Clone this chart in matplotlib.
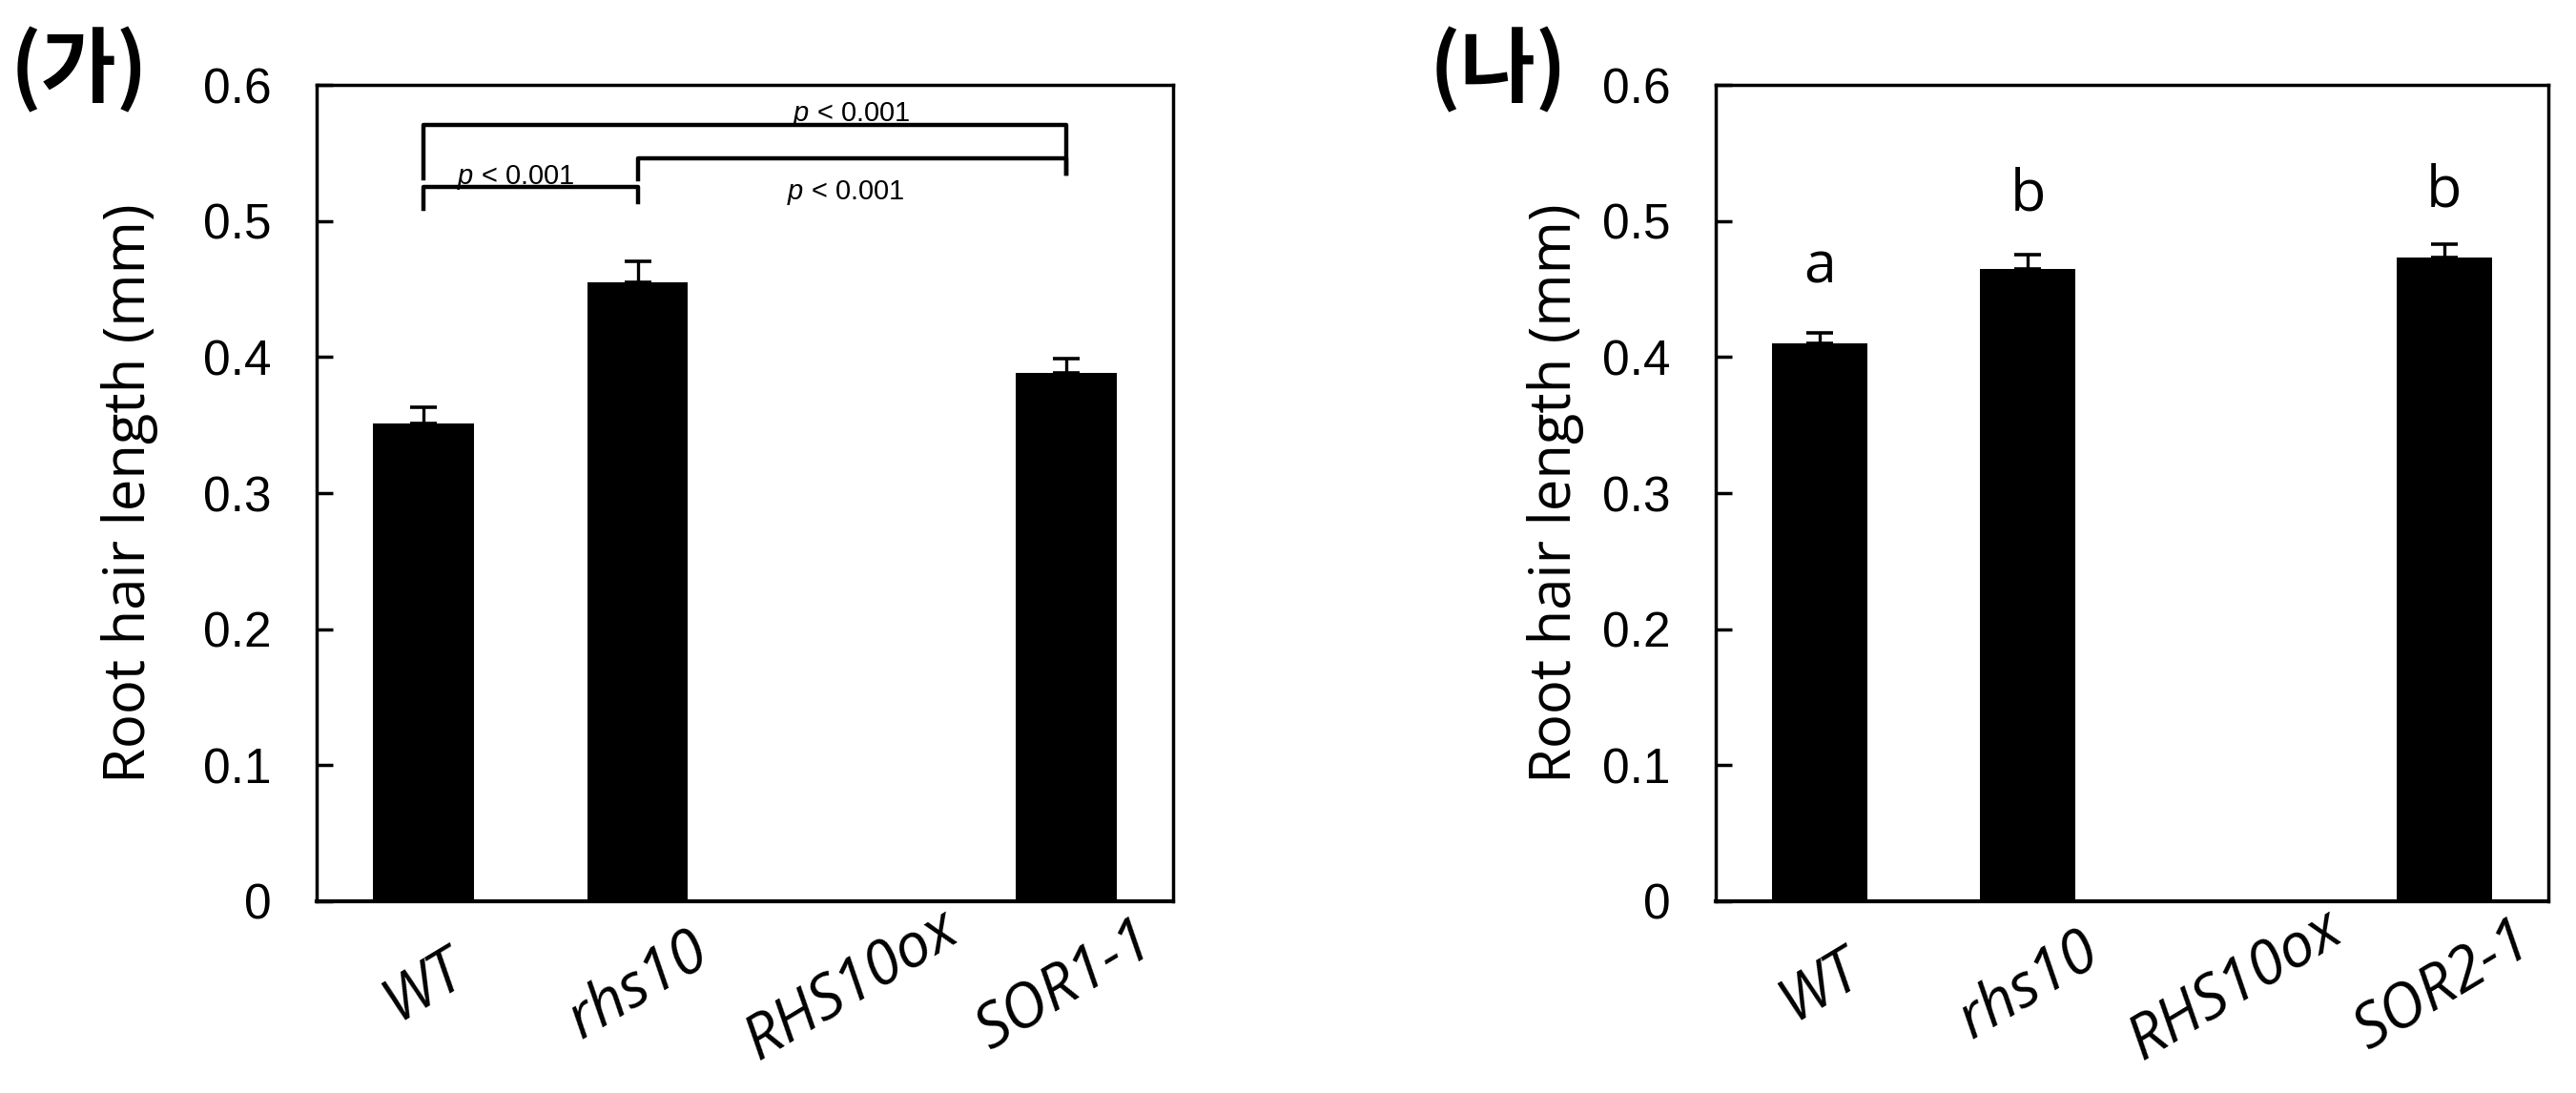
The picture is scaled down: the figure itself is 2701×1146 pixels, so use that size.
import matplotlib
matplotlib.use('Agg')
import matplotlib.pyplot as plt
import numpy as np

plt.rcParams['mathtext.fontset'] = 'custom'
plt.rcParams['mathtext.rm'] = 'Liberation Sans'
plt.rcParams['mathtext.it'] = 'Liberation Sans:italic'

# data
labels_a = ['WT', 'rhs10', 'RHS10ox', 'SOR1-1']
means_a = [0.351, 0.455, 0.0, 0.388]
errs_a = [0.012, 0.015, 0.0, 0.011]

labels_b = ['WT', 'rhs10', 'RHS10ox', 'SOR2-1']
means_b = [0.410, 0.465, 0.0, 0.473]
errs_b = [0.008, 0.010, 0.0, 0.010]
letters_b = ['a', 'b', '', 'b']
letter_y_b = [0.466, 0.519, 0, 0.522]

yticks = [0, 0.1, 0.2, 0.3, 0.4, 0.5, 0.6]
ytick_labels = ['0', '0.1', '0.2', '0.3', '0.4', '0.5', '0.6']

# brackets: (x1, x2, y, left leg bottom, right leg bottom, label x, label y)
brackets_a = [
    (0, 3, 0.5705, 0.531, 0.535, 2.0, 0.578),
    (1, 3, 0.546, 0.5305, 0.535, 1.97, 0.521),
    (0, 1, 0.525, 0.509, 0.514, 0.43, 0.532),
]

fig = plt.figure(figsize=(27.01, 11.46), dpi=100)
ax1 = fig.add_axes([0.1229, 0.1754, 0.3325, 0.7469])
ax2 = fig.add_axes([0.6660, 0.1754, 0.3232, 0.7469])


def draw(ax, labels, means, errs, width, lpad):
    x = np.arange(len(labels))
    ax.bar(x, means, width=width, color='black', zorder=2)
    for xi, m, e in zip(x, means, errs):
        if m > 0:
            ax.errorbar(xi, m, yerr=[[0], [e]], fmt='none', ecolor='black',
                        elinewidth=2.4, capsize=10, capthick=2.6, zorder=3)
    ax.set_xlim(-0.5, len(labels) - 0.5)
    ax.set_ylim(0, 0.6)
    ax.set_yticks(yticks)
    ax.set_yticklabels(ytick_labels, family='Liberation Sans', fontsize=37)
    ax.tick_params(axis='y', direction='in', length=12, width=2.5, pad=34)
    ax.tick_params(axis='x', length=0, pad=64)
    ax.set_xticks(x)
    ax.set_xticklabels(labels, rotation=31, ha='center', va='center',
                       rotation_mode='anchor',
                       family='Open Sans', style='italic', fontsize=46)
    for s in ax.spines.values():
        s.set_linewidth(2.5)
    ax.spines['bottom'].set_linewidth(3)
    ax.set_ylabel('Root hair length (mm)', family='Open Sans', fontsize=43, labelpad=lpad)


draw(ax1, labels_a, means_a, errs_a, 0.47, 34)
draw(ax2, labels_b, means_b, errs_b, 0.46, 14)

for x1, x2, yb, l1, l2, tx, ty in brackets_a:
    ax1.plot([x1, x1, x2, x2], [l1, yb, yb, l2], color='black', lw=3.2, zorder=3)
    ax1.text(tx, ty, r'$\it{p}$ < 0.001', ha='center', va='center', fontsize=21,
             family='Liberation Sans')

for i, (t, ly) in enumerate(zip(letters_b, letter_y_b)):
    if t:
        ax2.text(i, ly, t, ha='center', va='center', fontsize=44, family='Open Sans')

fig.text(0.004, 0.935, '(가)', fontsize=62, fontweight='bold', va='center', ha='left',
         family=['Noto Sans CJK KR', 'DejaVu Sans'])
fig.text(0.555, 0.935, '(나)', fontsize=62, fontweight='bold', va='center', ha='left',
         family=['Noto Sans CJK KR', 'DejaVu Sans'])

fig.savefig('out.png', dpi=100)
